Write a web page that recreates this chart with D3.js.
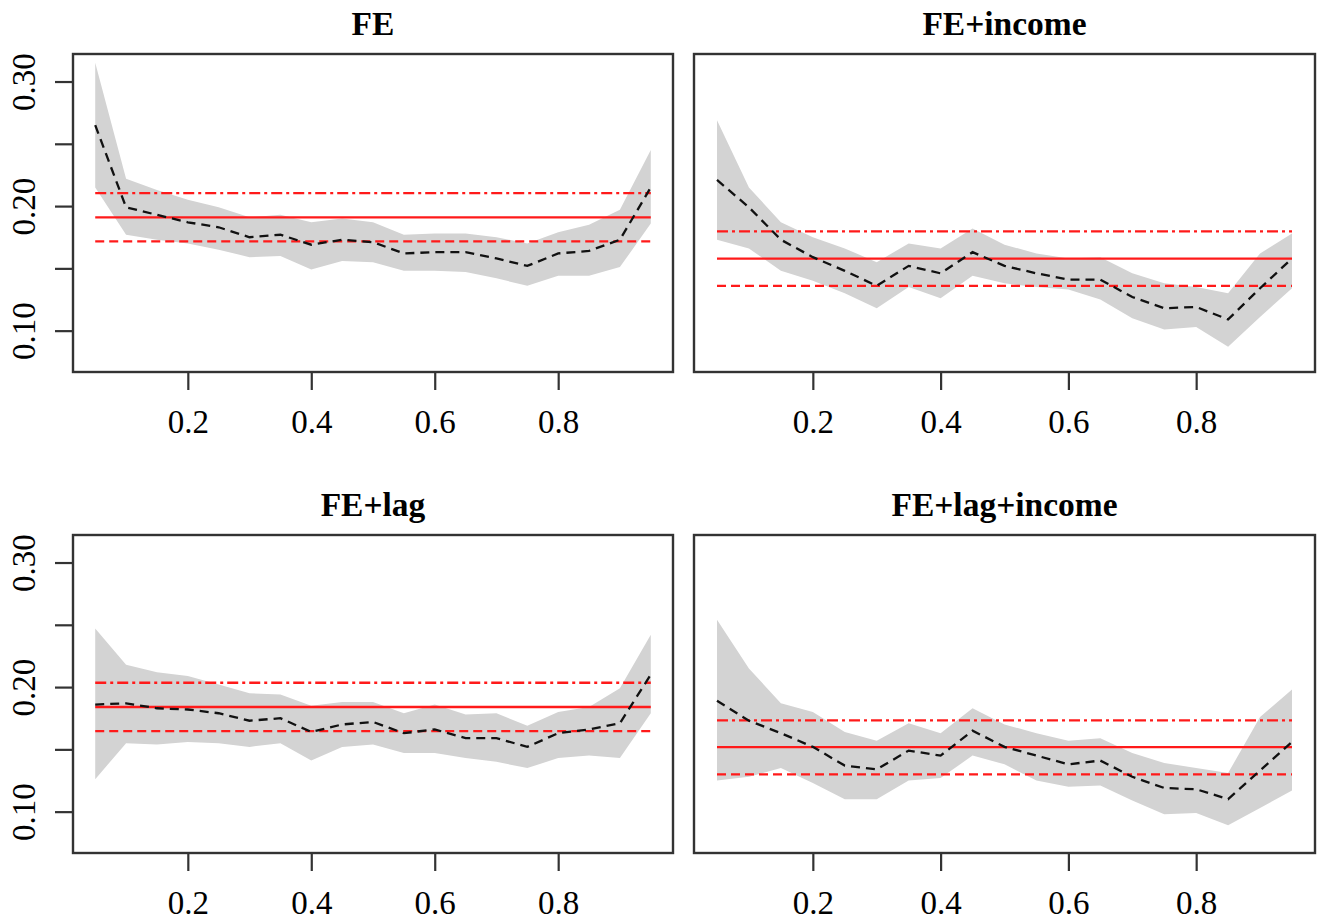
<!DOCTYPE html>
<html>
<head>
<meta charset="utf-8">
<script src="https://cdn.jsdelivr.net/npm/d3@7"></script>
<style>
	body { margin: 0; background: #fff; }
	svg text { font-family: "Liberation Serif", "Times New Roman", serif; fill: #000; }
	.c-panel__title { font-weight: bold; font-size: 33.5px; }
	.c-panel__tick-label { font-size: 33px; }
</style>
</head>
<body>
<svg id="chart" width="1319" height="921"></svg>
<script>
var quantiles = [0.05, 0.10, 0.15, 0.20, 0.25, 0.30, 0.35, 0.40, 0.45, 0.50,
	0.55, 0.60, 0.65, 0.70, 0.75, 0.80, 0.85, 0.90, 0.95];

var xTicks = [0.2, 0.4, 0.6, 0.8];
var yTicks = [0.10, 0.15, 0.20, 0.25, 0.30];
var yTickLabels = ["0.10", "", "0.20", "", "0.30"];

var titles = ["FE", "FE+income", "FE+lag", "FE+lag+income"];

//FE
var feMean = [0.265, 0.199, 0.193, 0.187, 0.183, 0.175, 0.177, 0.169, 0.173, 0.171,
	0.162, 0.163, 0.163, 0.158, 0.152, 0.162, 0.164, 0.173, 0.215];
var feUpper = [0.315, 0.222, 0.213, 0.205, 0.199, 0.191, 0.193, 0.187, 0.190, 0.187,
	0.177, 0.178, 0.178, 0.175, 0.170, 0.179, 0.185, 0.197, 0.245];
var feLower = [0.215, 0.177, 0.173, 0.170, 0.165, 0.159, 0.160, 0.149, 0.156, 0.155,
	0.148, 0.148, 0.147, 0.142, 0.136, 0.144, 0.144, 0.151, 0.186];
var feRef = [0.2104, 0.191, 0.1717];

//FE+income
var incMean = [0.221, 0.199, 0.173, 0.159, 0.148, 0.136, 0.152, 0.146, 0.163, 0.152,
	0.146, 0.141, 0.141, 0.127, 0.118, 0.119, 0.109, 0.134, 0.158];
var incUpper = [0.269, 0.215, 0.187, 0.175, 0.166, 0.155, 0.170, 0.166, 0.182, 0.169,
	0.162, 0.158, 0.159, 0.146, 0.138, 0.135, 0.130, 0.162, 0.178];
var incLower = [0.173, 0.166, 0.148, 0.140, 0.130, 0.118, 0.135, 0.126, 0.144, 0.138,
	0.135, 0.133, 0.125, 0.110, 0.101, 0.103, 0.087, 0.111, 0.134];
var incRef = [0.1797, 0.1578, 0.136];

//FE+lag
var lagMean = [0.186, 0.187, 0.183, 0.182, 0.179, 0.173, 0.175, 0.164, 0.170, 0.172,
	0.163, 0.166, 0.159, 0.159, 0.152, 0.163, 0.166, 0.171, 0.210];
var lagUpper = [0.247, 0.218, 0.212, 0.209, 0.202, 0.195, 0.194, 0.185, 0.188, 0.188,
	0.179, 0.186, 0.178, 0.179, 0.169, 0.180, 0.184, 0.199, 0.242];
var lagLower = [0.126, 0.155, 0.154, 0.156, 0.155, 0.152, 0.155, 0.141, 0.152, 0.154,
	0.147, 0.147, 0.143, 0.140, 0.135, 0.143, 0.145, 0.143, 0.179];
var lagRef = [0.2035, 0.184, 0.1647];

//FE+lag+income
var lagIncMean = [0.189, 0.173, 0.163, 0.152, 0.137, 0.134, 0.149, 0.145, 0.165, 0.152,
	0.145, 0.138, 0.141, 0.128, 0.119, 0.118, 0.110, 0.133, 0.156];
var lagIncUpper = [0.254, 0.215, 0.187, 0.180, 0.164, 0.157, 0.171, 0.163, 0.183, 0.170,
	0.163, 0.157, 0.159, 0.147, 0.139, 0.135, 0.131, 0.176, 0.198];
var lagIncLower = [0.125, 0.128, 0.135, 0.123, 0.110, 0.110, 0.125, 0.127, 0.145, 0.138,
	0.125, 0.120, 0.121, 0.109, 0.098, 0.099, 0.089, 0.103, 0.117];
var lagIncRef = [0.1733, 0.1518, 0.130];

var panels = [
	{title: titles[0], mean: feMean, upper: feUpper, lower: feLower, ref: feRef},
	{title: titles[1], mean: incMean, upper: incUpper, lower: incLower, ref: incRef},
	{title: titles[2], mean: lagMean, upper: lagUpper, lower: lagLower, ref: lagRef},
	{title: titles[3], mean: lagIncMean, upper: lagIncUpper, lower: lagIncLower, ref: lagIncRef}
];

var chart = {
	classPrefix: "c-panel",
	//pixel boxes of the plot regions, by column and by row
	cols: [{left: 73, right: 673}, {left: 694, right: 1315}],
	rows: [{top: 54, bottom: 372}, {top: 535, bottom: 853}],
	xDomain: [0.014, 0.986],
	yDomain: [0.0668, 0.3221],
	refDash: ["11,4,3,4", null, "9,5"],

	draw: function(){
		var self = this;
		var svg = d3.select("#chart");

		panels.forEach(function(p, i){
			self.drawPanel(svg, p, self.cols[i % 2], self.rows[Math.floor(i / 2)], i % 2 === 0);
		});
	},
	drawPanel: function(svg, p, col, row, showY){
		var self = this;
		var g = svg.append("g").attr("class", self.classPrefix);

		var x = d3.scaleLinear().domain(self.xDomain).range([col.left, col.right]);
		var y = d3.scaleLinear().domain(self.yDomain).range([row.bottom, row.top]);

		//Confidence band
		var area = d3.area()
			.x(function(d, i){ return x(quantiles[i]); })
			.y0(function(d, i){ return y(p.lower[i]); })
			.y1(function(d, i){ return y(p.upper[i]); });

		g.append("path")
			.datum(p.mean)
			.attr("d", area)
			.attr("fill", "#d3d3d3");

		//Reference lines: upper (dot-dash), estimate (solid), lower (dashed)
		var x0 = quantiles[0], x1 = quantiles[quantiles.length - 1];
		p.ref.forEach(function(v, k){
			g.append("line")
				.attr("x1", x(x0))
				.attr("x2", x(x1))
				.attr("y1", y(v))
				.attr("y2", y(v))
				.attr("stroke", "#ff1a1a")
				.attr("stroke-width", 2.3)
				.attr("stroke-dasharray", self.refDash[k]);
		});

		//Quantile estimates
		var line = d3.line()
			.x(function(d, i){ return x(quantiles[i]); })
			.y(function(d){ return y(d); });

		g.append("path")
			.datum(p.mean)
			.attr("d", line)
			.attr("fill", "none")
			.attr("stroke", "#111")
			.attr("stroke-width", 2.3)
			.attr("stroke-dasharray", "9,6");

		//Box
		g.append("rect")
			.attr("x", col.left)
			.attr("y", row.top)
			.attr("width", col.right - col.left)
			.attr("height", row.bottom - row.top)
			.attr("fill", "none")
			.attr("stroke", "#333")
			.attr("stroke-width", 2.4);

		//X axis
		var xAxis = d3.axisBottom(x)
			.tickValues(xTicks)
			.tickSize(18)
			.tickFormat(d3.format(".1f"));

		var gx = g.append("g")
			.attr("transform", "translate(0," + row.bottom + ")")
			.call(xAxis);
		gx.select(".domain").remove();
		gx.selectAll(".tick line").attr("stroke", "#333").attr("stroke-width", 2.2);
		gx.selectAll(".tick text")
			.attr("class", self.classPrefix + "__tick-label")
			.attr("font-family", null)
			.attr("font-size", null)
			.attr("dy", null)
			.attr("y", 61);

		//Y axis, left column only
		if (showY){
			var yAxis = d3.axisLeft(y)
				.tickValues(yTicks)
				.tickSize(18)
				.tickFormat(function(d, i){ return yTickLabels[i]; });

			var gy = g.append("g")
				.attr("transform", "translate(" + col.left + ",0)")
				.call(yAxis);
			gy.select(".domain").remove();
			gy.selectAll(".tick line").attr("stroke", "#333").attr("stroke-width", 2.2);
			gy.selectAll(".tick text")
				.attr("class", self.classPrefix + "__tick-label")
				.attr("font-family", null)
				.attr("font-size", null)
				.attr("x", null)
				.attr("dy", null)
				.attr("text-anchor", "middle")
				.attr("transform", "translate(" + (35 - col.left) + ",0)rotate(-90)");
		}

		//Title
		g.append("text")
			.attr("class", self.classPrefix + "__title")
			.attr("text-anchor", "middle")
			.attr("x", (col.left + col.right) / 2)
			.attr("y", row.top - 19)
			.text(p.title);
	}
};

chart.draw();
</script>
</body>
</html>
